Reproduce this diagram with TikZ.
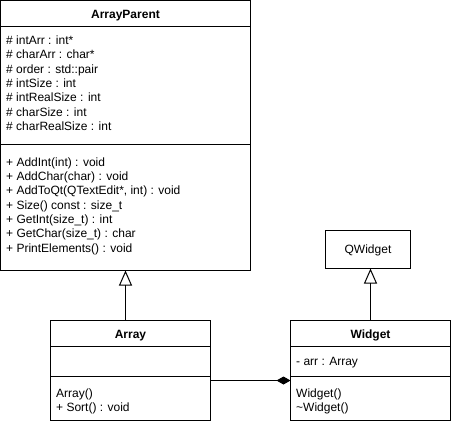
\documentclass[tikz,border=0pt]{standalone}
\usepackage{fontspec}
\setmainfont{Liberation Sans}
\usetikzlibrary{arrows.meta,calc}
\begin{document}
\begin{tikzpicture}[x=1pt,y=-1pt,
  box/.style={draw=black,line width=1pt,inner sep=0pt,outer sep=0pt,anchor=north west},
  txt/.style={anchor=base west,inner sep=0pt,font=\fontsize{12}{14.4}\selectfont},
  ttl/.style={anchor=base,inner sep=0pt,font=\fontsize{12}{14.4}\selectfont\bfseries},
  sep/.style={line width=1pt},
  inh/.style={line width=1pt,-{Triangle[open,length=15pt,width=13pt,line width=1pt]}},
  comp/.style={line width=1pt,-{Diamond[length=14pt,width=8pt]}}]
\useasboundingbox (0,0) rectangle (451,424);
% boxes
\node[box,minimum width=250pt,minimum height=270pt] (parent) at (0.5,0.5) {};
\node[box,minimum width=160pt,minimum height=100pt] (array) at (50.5,320.5) {};
\node[box,minimum width=160pt,minimum height=100pt] (widget) at (290.5,320.5) {};
\node[box,minimum width=85pt,minimum height=38pt] (qwidget) at (325.5,230.5) {};
% separators
\draw[sep] (parent.west |- 0,26.5) -- (parent.east |- 0,26.5);
\draw[sep] (parent.west |- 0,144.5) -- (parent.east |- 0,144.5);
\draw[sep] (array.west |- 0,346.5) -- (array.east |- 0,346.5);
\draw[sep] (array.west |- 0,376.5) -- (array.east |- 0,376.5);
\draw[sep] (widget.west |- 0,346.5) -- (widget.east |- 0,346.5);
\draw[sep] (widget.west |- 0,376.5) -- (widget.east |- 0,376.5);
% titles
\node[ttl] (tparent) at (125.5,18.5) {ArrayParent};
\node[ttl] (tarray) at (130.5,338.5) {Array};
\node[ttl] (twidget) at (370.5,338.5) {Widget};
\node[anchor=base,inner sep=0pt,font=\fontsize{12}{14.4}\selectfont] (tq) at (368,253.5) {QWidget};
% attributes
\node[txt] (a1) at (6,44.3) {\# intArr : int*};
\node[txt] (a2) at (6,58.6) {\# charArr : char*};
\node[txt] (a3) at (6,73) {\# order : std::pair};
\node[txt] (a4) at (6,87.3) {\# intSize : int};
\node[txt] (a5) at (6,101.7) {\# intRealSize : int};
\node[txt] (a6) at (6,116) {\# charSize : int};
\node[txt] (a7) at (6,130.4) {\# charRealSize : int};
% methods
\node[txt] (m1) at (6,166) {+ AddInt(int) : void};
\node[txt] (m2) at (6,180.3) {+ AddChar(char) : void};
\node[txt] (m3) at (6,194.7) {+ AddToQt(QTextEdit*, int) : void};
\node[txt] (m4) at (6,209) {+ Size() const : size\_t};
\node[txt] (m5) at (6,223.4) {+ GetInt(size\_t) : int};
\node[txt] (m6) at (6,237.7) {+ GetChar(size\_t) : char};
\node[txt] (m7) at (6,252.1) {+ PrintElements() : void};
% array
\node[txt] (am1) at (56,397.5) {Array()};
\node[txt] (am2) at (56,411.9) {+ Sort() : void};
% widget
\node[txt] (wa1) at (296,365) {- arr : Array};
\node[txt] (wm1) at (296,397.5) {Widget()};
\node[txt] (wm2) at (296,411.9) {\textasciitilde Widget()};
% connectors
\draw[inh] (array.north -| 125.5,0) -- (parent.south -| 125.5,0);
\draw[inh] (widget.north -| 370.5,0) -- (qwidget.south -| 370.5,0);
\draw[comp] (array.east |- 0,380.5) -- (widget.west |- 0,380.5);
\end{tikzpicture}
\end{document}
